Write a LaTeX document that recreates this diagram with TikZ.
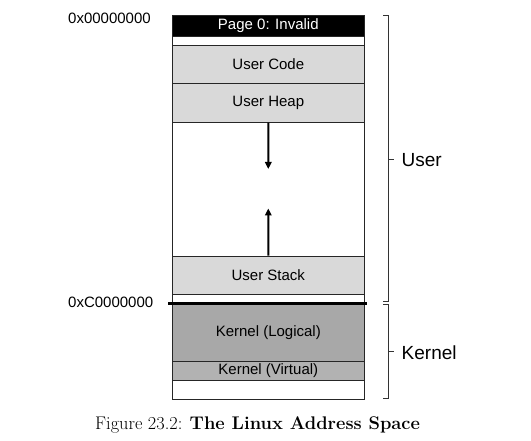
\documentclass[tikz,border=0pt]{standalone}
\usepackage{fontspec}
\setsansfont{Liberation Sans}
\usetikzlibrary{arrows.meta}
\definecolor{usergray}{gray}{0.85}
\definecolor{klog}{gray}{0.66}
\definecolor{kvirt}{gray}{0.70}
\tikzset{
  region/.style={draw=black!85, line width=0.9pt, minimum width=192.3pt, inner sep=0pt, anchor=north west, font=\sffamily\fontsize{15}{15}\selectfont},
  addr/.style={anchor=west, inner sep=0pt, font=\sffamily\fontsize{15}{15}\selectfont},
  side/.style={anchor=west, inner sep=0pt, font=\sffamily\fontsize{19}{19}\selectfont},
  growarrow/.style={line width=2pt, -{Triangle[length=7pt,width=6.5pt]}},
  brk/.style={draw=black!80, line width=0.9pt},
}
\begin{document}
\begin{tikzpicture}[x=1pt,y=-1pt]
\useasboundingbox (0,0) rectangle (531,441);
% outer box
\node[region, minimum height=383.7pt] (outer) at (171.7,15.3) {};
\node[region, fill=black, text=white, minimum height=20.4pt] (page0) at (171.7,15.3) {Page 0: Invalid};
\node[region, fill=usergray, minimum height=38.3pt] (code) at (171.7,45) {User Code};
\node[region, fill=usergray, minimum height=38.4pt] (heap) at (171.7,83.3) {User Heap};
\node[region, fill=usergray, minimum height=38.3pt] (stack) at (171.7,255.7) {User Stack};
\node[region, fill=klog, minimum height=57.4pt] (klogical) at (171.7,303.3) {Kernel (Logical)};
\node[region, fill=kvirt, minimum height=19.3pt] (kvirtual) at (171.7,360.7) {Kernel (Virtual)};
% split line
\coordinate (splitL) at (168,303.3);
\coordinate (splitR) at (367,303.3);
\draw[line width=2.6pt] (splitL) -- (splitR);
% growth arrows
\coordinate (heapend) at (268.3,169);
\coordinate (stackend) at (268.3,208.5);
\draw[growarrow] (heap.south) -- (heapend);
\draw[growarrow] (stack.north) -- (stackend);
% address labels
\node[addr] (a0) at (68,18) {0x00000000};
\node[addr] (ac) at (68,302) {0xC0000000};
% brackets
\coordinate (ub1) at (383,15.7);
\coordinate (ub2) at (388.3,15.7);
\coordinate (ub3) at (388.3,301.7);
\coordinate (ub4) at (383,301.7);
\coordinate (um1) at (388.3,159.5);
\coordinate (um2) at (393.5,159.5);
\draw[brk] (ub1) -- (ub2) -- (ub3) -- (ub4);
\draw[brk] (um1) -- (um2);
\coordinate (kb1) at (383,304.5);
\coordinate (kb2) at (388.3,304.5);
\coordinate (kb3) at (388.3,398);
\coordinate (kb4) at (383,398);
\coordinate (km1) at (388.3,351.5);
\coordinate (km2) at (393.5,351.5);
\draw[brk] (kb1) -- (kb2) -- (kb3) -- (kb4);
\draw[brk] (km1) -- (km2);
\node[side] (user) at (401.5,160) {User};
\node[side] (kernel) at (401.5,352.5) {Kernel};
% caption
\node[anchor=base west, inner sep=0pt, font=\fontsize{18.3}{20}\selectfont] (cap) at (95,429) {Figure 23.2: \textbf{The Linux Address Space}};
\end{tikzpicture}
\end{document}
